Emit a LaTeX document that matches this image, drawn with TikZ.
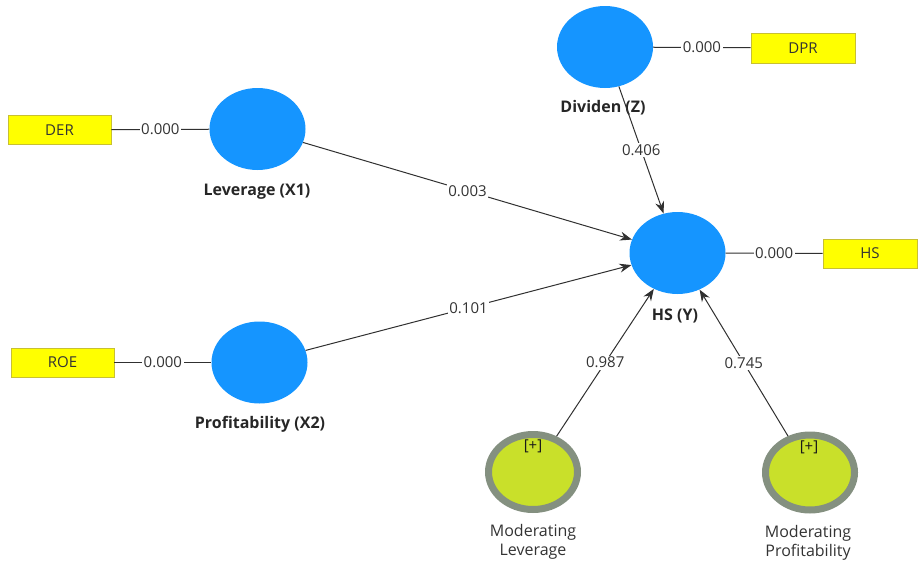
\documentclass[tikz,border=0pt]{standalone}
\usepackage{fontspec}
\setmainfont{Open Sans}
\usetikzlibrary{shapes.geometric,arrows.meta}
\definecolor{lvblue}{HTML}{1595FF}
\definecolor{boxyellow}{HTML}{FFFF00}
\definecolor{boxborder}{HTML}{C8C032}
\definecolor{modfill}{HTML}{C9E02A}
\definecolor{modborder}{HTML}{849080}
\definecolor{linec}{HTML}{303030}
\begin{document}
\begin{tikzpicture}[x=1pt,y=-1pt,
  font=\fontsize{15}{17}\selectfont,
  latent/.style={ellipse,fill=lvblue,draw=none,minimum width=96pt,minimum height=82pt,inner sep=0pt},
  modnode/.style={ellipse,fill=modfill,draw=modborder,line width=7pt,minimum width=89pt,minimum height=75pt,inner sep=0pt},
  indbox/.style={rectangle,fill=boxyellow,draw=boxborder,line width=0.8pt,minimum width=103pt,minimum height=29pt,inner sep=0pt,text=black!80},
  lvname/.style={font=\fontsize{16}{18}\selectfont\bfseries,text=black!85},
  modname/.style={align=center,font=\fontsize{16}{18.5}\selectfont,text=black!80},
  coef/.style={fill=white,inner sep=1.5pt,text=black!80},
  plus/.style={text=black!90,font=\fontsize{15}{17}\selectfont},
  loadline/.style={draw=linec,line width=1pt},
  pathline/.style={draw=linec,line width=1pt,-{Stealth[length=12pt,width=9pt]}}
]
\useasboundingbox (0,0) rectangle (918,570);
% latent variables
\node[latent] (lev) at (257.5,129) {};
\node[latent] (prof) at (259.5,362.5) {};
\node[latent] (div) at (605,47) {};
\node[latent] (hs) at (677.5,253) {};
\node[modnode] (ml) at (533,472) {};
\node[modnode] (mp) at (810,472.5) {};
% names
\node[lvname] (levn) at (257,192) {Leverage (X1)};
\node[lvname] (profn) at (260,424) {Profitability (X2)};
\node[lvname] (divn) at (603,108) {Dividen (Z)};
\node[lvname] (hsn) at (675,316) {HS (Y)};
\node[modname] (mln) at (533,542) {Moderating\\Leverage};
\node[modname] (mpn) at (808,543) {Moderating\\Profitability};
\node[plus] (mlp) at (533,446) {[+]};
\node[plus] (mpp) at (809,447) {[+]};
% indicators
\node[indbox] (der) at (59.5,130) {DER};
\node[indbox] (roe) at (62.5,362.5) {ROE};
\node[indbox,minimum width=104pt,minimum height=30pt] (dpr) at (803,48) {DPR};
\node[indbox,minimum width=94pt] (hsi) at (870,253.5) {HS};
% loadings
\draw[loadline] (der) -- node[coef] (l1) {0.000} (lev);
\draw[loadline] (roe) -- node[coef] (l2) {0.000} (prof);
\draw[loadline] (div) -- node[coef] (l3) {0.000} (dpr);
\draw[loadline] (hs) -- node[coef] (l4) {0.000} (hsi);
% paths
\draw[pathline] (lev) -- node[coef] (p1) {0.003} (hs);
\draw[pathline] (prof) -- node[coef] (p2) {0.101} (hs);
\draw[pathline] (div) -- node[coef] (p3) {0.406} (hs);
\draw[pathline] (ml) -- node[coef] (p4) {0.987} (hs);
\draw[pathline] (mp) -- node[coef] (p5) {0.745} (hs);
\end{tikzpicture}
\end{document}
